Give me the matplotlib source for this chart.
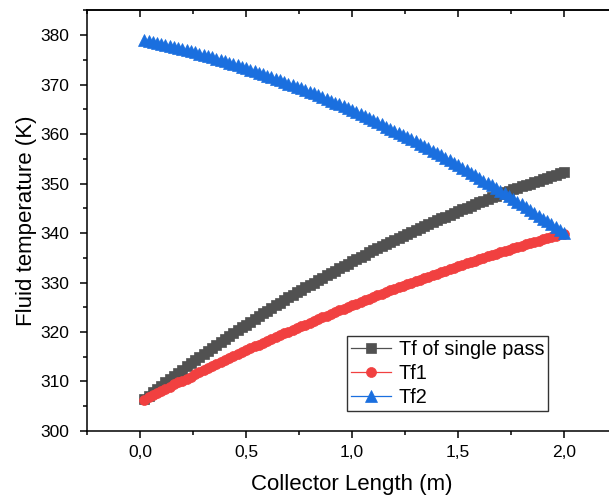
import matplotlib
matplotlib.use("Agg")
import matplotlib.pyplot as plt
from matplotlib.ticker import MultipleLocator

plt.rcParams["font.family"] = ["Liberation Sans", "DejaVu Sans"]

# ── data ──────────────────────────────────────────────────
collector_len = [
    0.02, 0.04, 0.06, 0.08, 0.10, 0.12, 0.14, 0.16, 0.18, 0.20,
    0.22, 0.24, 0.26, 0.28, 0.30, 0.32, 0.34, 0.36, 0.38, 0.40,
    0.42, 0.44, 0.46, 0.48, 0.50, 0.52, 0.54, 0.56, 0.58, 0.60,
    0.62, 0.64, 0.66, 0.68, 0.70, 0.72, 0.74, 0.76, 0.78, 0.80,
    0.82, 0.84, 0.86, 0.88, 0.90, 0.92, 0.94, 0.96, 0.98, 1.00,
    1.02, 1.04, 1.06, 1.08, 1.10, 1.12, 1.14, 1.16, 1.18, 1.20,
    1.22, 1.24, 1.26, 1.28, 1.30, 1.32, 1.34, 1.36, 1.38, 1.40,
    1.42, 1.44, 1.46, 1.48, 1.50, 1.52, 1.54, 1.56, 1.58, 1.60,
    1.62, 1.64, 1.66, 1.68, 1.70, 1.72, 1.74, 1.76, 1.78, 1.80,
    1.82, 1.84, 1.86, 1.88, 1.90, 1.92, 1.94, 1.96, 1.98, 2.00,
]

tf_single = [
    306.4, 307.1, 307.8, 308.5, 309.1, 309.8, 310.5, 311.1, 311.8, 312.4,
    313.1, 313.7, 314.3, 315.0, 315.6, 316.2, 316.8, 317.4, 318.0, 318.6,
    319.2, 319.8, 320.4, 321.0, 321.5, 322.1, 322.7, 323.2, 323.8, 324.3,
    324.8, 325.4, 325.9, 326.4, 327.0, 327.5, 328.0, 328.5, 329.0, 329.5,
    330.0, 330.5, 331.0, 331.5, 332.0, 332.4, 332.9, 333.4, 333.8, 334.3,
    334.7, 335.2, 335.6, 336.1, 336.5, 336.9, 337.4, 337.8, 338.2, 338.6,
    339.0, 339.4, 339.9, 340.3, 340.7, 341.0, 341.4, 341.8, 342.2, 342.6,
    343.0, 343.3, 343.7, 344.1, 344.4, 344.8, 345.1, 345.5, 345.8, 346.2,
    346.5, 346.8, 347.2, 347.5, 347.8, 348.2, 348.5, 348.8, 349.1, 349.4,
    349.7, 350.0, 350.3, 350.6, 350.9, 351.2, 351.5, 351.8, 352.1, 352.4,
]

tf1 = [
    306.3, 306.8, 307.2, 307.6, 308.1, 308.5, 308.9, 309.4, 309.8, 310.2,
    310.6, 311.0, 311.5, 311.9, 312.3, 312.7, 313.1, 313.5, 313.9, 314.3,
    314.7, 315.1, 315.5, 315.9, 316.3, 316.7, 317.1, 317.4, 317.8, 318.2,
    318.6, 319.0, 319.3, 319.7, 320.1, 320.4, 320.8, 321.2, 321.5, 321.9,
    322.3, 322.6, 323.0, 323.3, 323.7, 324.0, 324.4, 324.7, 325.1, 325.4,
    325.7, 326.1, 326.4, 326.7, 327.1, 327.4, 327.7, 328.1, 328.4, 328.7,
    329.0, 329.3, 329.7, 330.0, 330.3, 330.6, 330.9, 331.2, 331.5, 331.8,
    332.1, 332.4, 332.7, 333.0, 333.3, 333.6, 333.9, 334.1, 334.4, 334.7,
    335.0, 335.3, 335.5, 335.8, 336.1, 336.3, 336.6, 336.9, 337.1, 337.4,
    337.7, 337.9, 338.2, 338.4, 338.7, 338.9, 339.2, 339.4, 339.7, 339.9,
]

tf2 = [
    379.0, 378.8, 378.6, 378.4, 378.2, 378.0, 377.8, 377.6, 377.4, 377.2,
    376.9, 376.7, 376.5, 376.2, 376.0, 375.7, 375.5, 375.2, 375.0, 374.7,
    374.4, 374.1, 373.9, 373.6, 373.3, 373.0, 372.7, 372.4, 372.1, 371.8,
    371.5, 371.2, 370.9, 370.5, 370.2, 369.9, 369.5, 369.2, 368.9, 368.5,
    368.2, 367.8, 367.4, 367.1, 366.7, 366.3, 366.0, 365.6, 365.2, 364.8,
    364.4, 364.0, 363.6, 363.2, 362.8, 362.4, 362.0, 361.5, 361.1, 360.7,
    360.2, 359.8, 359.4, 358.9, 358.5, 358.0, 357.5, 357.1, 356.6, 356.1,
    355.7, 355.2, 354.7, 354.2, 353.7, 353.2, 352.7, 352.2, 351.7, 351.2,
    350.6, 350.1, 349.6, 349.1, 348.5, 348.0, 347.4, 346.9, 346.3, 345.8,
    345.2, 344.7, 344.1, 343.5, 342.9, 342.4, 341.8, 341.2, 340.6, 340.0,
]

series_labels = ["Tf of single pass", "Tf1", "Tf2"]
xtick_vals = [0.0, 0.5, 1.0, 1.5, 2.0]
xtick_labels = ["0,0", "0,5", "1,0", "1,5", "2,0"]
ytick_vals = [300, 310, 320, 330, 340, 350, 360, 370, 380]

# ── figure ────────────────────────────────────────────────
fig = plt.figure(figsize=(6.09, 4.99), dpi=100)
ax = fig.add_axes([0.1429, 0.1363, 0.8703, 0.8431])

styles = [
    dict(color="#515151", marker="s", ms=7),
    dict(color="#F14040", marker="o", ms=7.2),
    dict(color="#1A6FDF", marker="^", ms=8),
]
for ys, lab, st in zip([tf_single, tf1, tf2], series_labels, styles):
    ln, = ax.plot(collector_len, ys, color=st["color"], lw=0.9,
                  marker=st["marker"], ms=st["ms"], mfc=st["color"],
                  mec=st["color"], mew=0.5, label=lab)
    ln.set_snap(False)   # 不对齐像素，点密集时更平滑

ax.set_xlim(-0.25, 2.25)
ax.set_ylim(300, 385)
ax.set_xticks(xtick_vals)
ax.set_xticklabels(xtick_labels)
ax.set_yticks(ytick_vals)
ax.xaxis.set_minor_locator(MultipleLocator(0.25))
ax.yaxis.set_minor_locator(MultipleLocator(5))

for side in ["left", "bottom", "top", "right"]:
    ax.spines[side].set_linewidth(1.1)
ax.tick_params(which="major", direction="out", length=5, width=1.1,
               labelsize=12.5)
ax.tick_params(axis="x", which="major", pad=5)
ax.tick_params(axis="y", which="major", pad=8)
ax.tick_params(which="minor", direction="out", length=3, width=1.1)

# top axis: ticks pointing inwards, no labels
top = ax.secondary_xaxis("top")
top.set_xticks(xtick_vals)
top.set_xticklabels([])
top.xaxis.set_minor_locator(MultipleLocator(0.25))
top.tick_params(which="major", direction="in", length=5, width=1.1)
top.tick_params(which="minor", direction="in", length=3, width=1.1)
top.spines["top"].set_linewidth(1.1)

ax.set_xlabel("Collector Length (m)", fontsize=16, labelpad=10)
ax.set_ylabel("Fluid temperature (K)", fontsize=16, labelpad=2)

leg = ax.legend(loc="upper left", bbox_to_anchor=(0.4906, 0.2258),
                borderaxespad=0, fontsize=14.3, fancybox=False,
                edgecolor="#333333", handlelength=2.0, handletextpad=0.4,
                borderpad=0.2, labelspacing=0.25, framealpha=1)
leg.get_frame().set_linewidth(1.0)

fig.savefig("out.png", dpi=100)
